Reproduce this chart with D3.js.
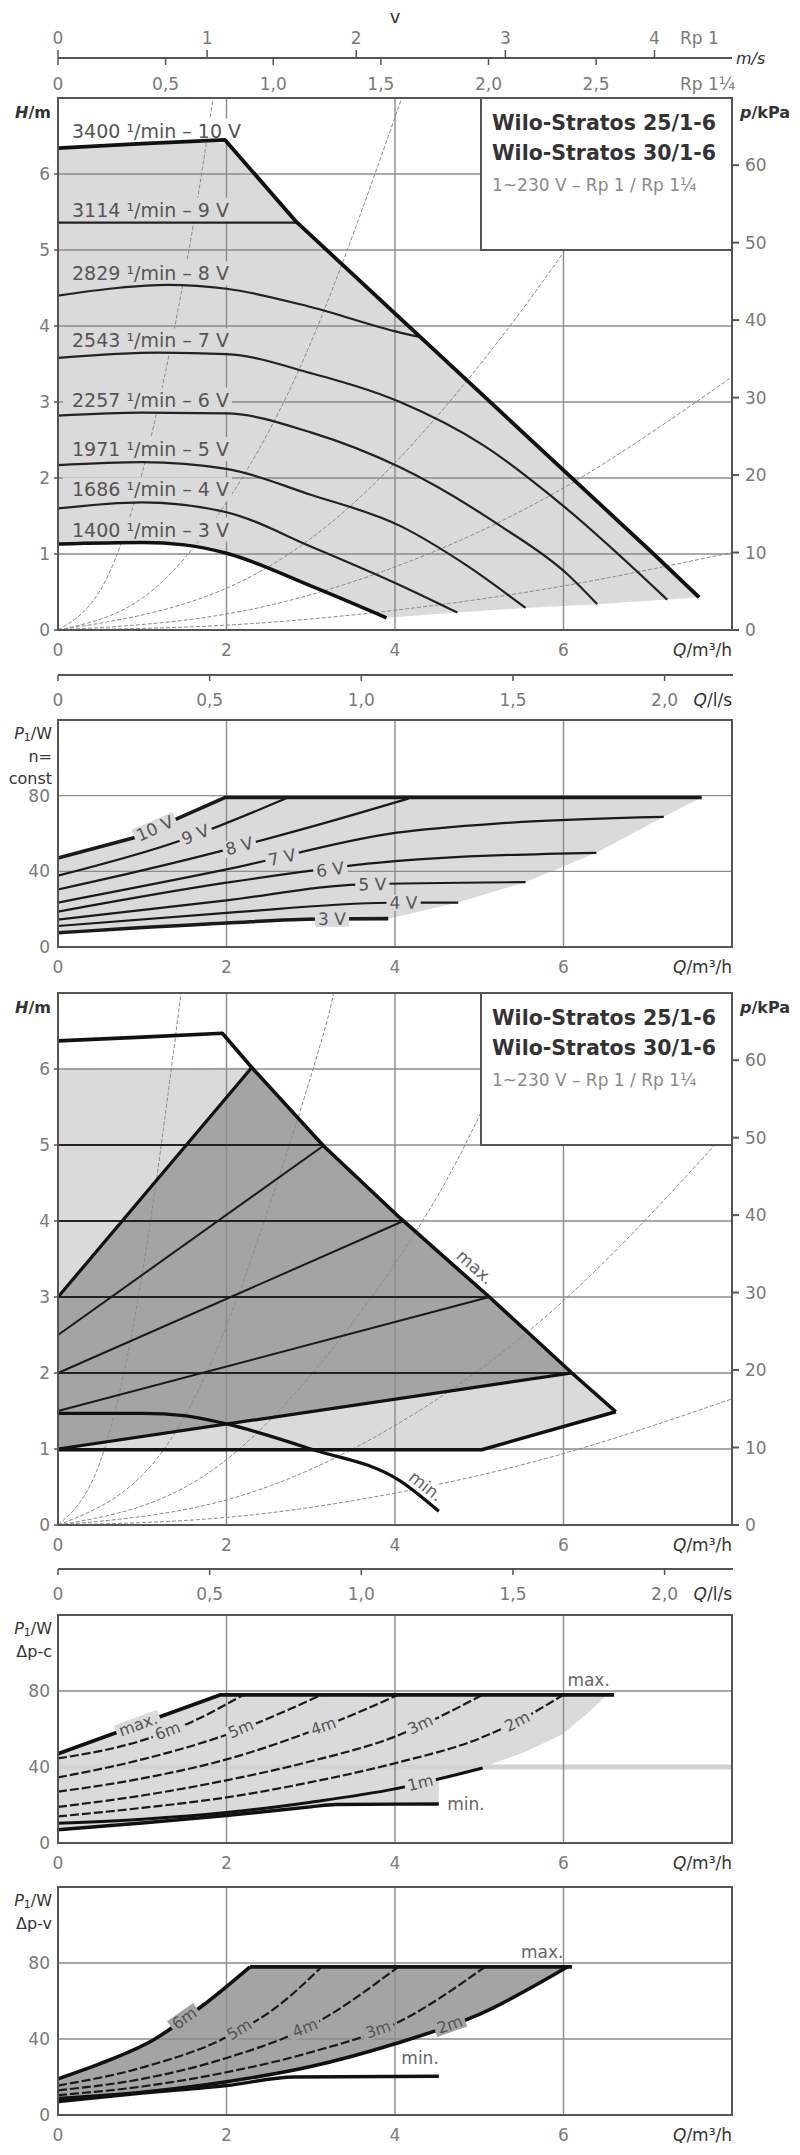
<!DOCTYPE html>
<html><head><meta charset="utf-8">
<script src="https://cdn.jsdelivr.net/npm/d3@7"></script>
<style>
html,body{margin:0;padding:0;background:#fff;}
svg{display:block;font-family:"DejaVu Sans",sans-serif;}
</style></head><body>
<svg id="c" width="800" height="2155"></svg>
<script>
// ================= DATA =================
const qTicks = [0, 2, 4, 6];
const lsTicks = [0, 0.5, 1.0, 1.5, 2.0];
const lsLabels = ["0", "0,5", "1,0", "1,5", "2,0"];
const vRp1Ticks = [0, 1, 2, 3, 4];
const vRp114Ticks = [0, 0.5, 1.0, 1.5, 2.0, 2.5];
const vRp114Labels = ["0", "0,5", "1,0", "1,5", "2,0", "2,5"];
const hTicks = [0, 1, 2, 3, 4, 5, 6];
const kpaTicks = [0, 10, 20, 30, 40, 50, 60];
const pwTicks = [0, 40, 80];
const legendLines = ["Wilo-Stratos 25/1-6", "Wilo-Stratos 30/1-6", "1~230 V – Rp 1 / Rp 1¼"];

// Panel 1 : H/m vs Q, n = const
const p1Labels = ["3400 ¹/min – 10 V", "3114 ¹/min – 9 V", "2829 ¹/min – 8 V", "2543 ¹/min – 7 V",
                  "2257 ¹/min – 6 V", "1971 ¹/min – 5 V", "1686 ¹/min – 4 V", "1400 ¹/min – 3 V"];
const p1_10V = [[0,6.34],[1,6.40],[1.98,6.45],[2.83,5.37],[7.07,1.0],[7.61,0.43]];
const p1_9V  = [[0,5.36],[2.83,5.36]];
const p1_8V  = [[0,4.40],[0.7,4.50],[1.3,4.54],[2,4.49],[3,4.25],[4.04,3.92],[4.28,3.86]];
const p1_7V  = [[0,3.58],[1.2,3.65],[2,3.63],[3,3.38],[4.06,3.0],[5.05,2.43],[6,1.63],[7.23,0.40]];
const p1_6V  = [[0,2.82],[1,2.86],[2,2.85],[3,2.6],[4.06,2.14],[5.25,1.37],[6.04,0.74],[6.4,0.34]];
const p1_5V  = [[0,2.17],[1,2.21],[2,2.12],[3,1.78],[4.06,1.37],[4.85,0.85],[5.55,0.29]];
const p1_4V  = [[0,1.60],[1,1.68],[2,1.55],[3,1.10],[4.06,0.59],[4.74,0.23]];
const p1_3V  = [[0,1.13],[1,1.15],[1.5,1.12],[2,1.01],[3,0.58],[3.9,0.16]];
const p1Sys = [
  [[0,0],[0.5,0.52],[1,2.07],[1.5,4.66],[1.84,7.0]],
  [[0,0],[1,0.42],[2,1.68],[3,3.78],[4.08,7.0]],
  [[0,0],[2,0.55],[4,2.2],[6,4.97],[7.12,7.0]],
  [[0,0],[2,0.21],[4,0.83],[6,1.87],[8,3.33]],
  [[0,0],[2,0.064],[4,0.26],[6,0.58],[8,1.02]]
];

// Panel 2 : P1/W, n = const
const p2Labels = ["10 V","9 V","8 V","7 V","6 V","5 V","4 V","3 V"];
const p2LabelQ = [1.15, 1.63, 2.15, 2.66, 3.23, 3.73, 4.1, 3.25];
const p2_10V = [[0,47],[0.89,57.6],[1.98,79],[7.64,79]];
const p2_9V  = [[0,37.7],[1.43,55.9],[2.73,79]];
const p2_8V  = [[0,30.4],[1,40.5],[2,51.5],[3,63.5],[4.16,78.5]];
const p2_7V  = [[0,23.5],[2,41],[4,60.3],[5.32,65.6],[7.19,68.8]];
const p2_6V  = [[0,18.7],[2,34],[4,45.4],[6.39,49.8]];
const p2_5V  = [[0,14.5],[2,24.6],[3.55,33],[5.55,34.3]];
const p2_4V  = [[0,11.1],[2,18],[3.92,23.4],[4.75,23.5]];
const p2_3V  = [[0,7.5],[2,12.7],[3.1,14.8],[3.92,15]];

// Panel 3 : H/m, Δp-c / Δp-v ranges
const p3Max = [[0,6.37],[1.0,6.42],[1.95,6.47],[2.3,6.02],[3.15,4.99],[4.06,4.04],[5.12,3.0],[6.1,2.0],[6.62,1.49]];
const p3Bottom = [[6.62,1.49],[5.03,0.99],[0,0.99]];
const p3Dpv6 = [[0,3.0],[2.3,6.02]];
const p3Dpv5 = [[0,2.5],[3.15,4.99]];
const p3Dpv4 = [[0,2.0],[4.1,4.0]];
const p3Dpv3 = [[0,1.5],[5.12,3.0]];
const p3Dpv2 = [[0,1.0],[6.1,2.0]];
const p3DpcLevels = [2, 3, 4, 5];
const p3Min = [[0,1.47],[1,1.47],[1.5,1.44],[2,1.33],[3,1.0],[4.06,0.58],[4.52,0.18]];
const p3Sys = [
  [[0,0],[0.5,0.83],[1,3.3],[1.46,7.0]],
  [[0,0],[1,0.655],[2,2.62],[3,5.9],[3.27,7.0]],
  [[0,0],[2,0.86],[4,3.44],[5,5.38],[5.7,7.0]],
  [[0,0],[2,0.33],[4,1.31],[6,2.95],[8,5.25]],
  [[0,0],[2,0.10],[4,0.42],[6,0.94],[8,1.66]]
];

// Panel 4 : P1/W, Δp-c
const p4Max = [[0,47],[1.93,78],[6.6,78]];
const p4_6m = [[0,44.5],[1,54],[1.6,64],[2.2,78]];
const p4_5m = [[0,34.5],[1,44],[2,57],[3.13,78]];
const p4_4m = [[0,27],[1,34],[2,44],[3.25,63],[4.04,78]];
const p4_3m = [[0,19],[1,25],[2,33],[3,43],[4,56],[5.04,78]];
const p4_2m = [[0,14],[1,18.5],[2,24],[3,32],[4,42],[5,55],[5.45,64],[6.0,78]];
const p4_1m = [[0,10.4],[1,12.5],[2,16],[3,21.5],[4,28.5],[5.04,39.5]];
const p4Min = [[0,7],[1,10.5],[2,14.5],[3,19],[3.3,20.3],[4.52,20.5]];
const p4Edge = [[6.52,78],[6.28,68],[5.98,57],[5.55,48],[5.05,40]];

// Panel 5 : P1/W, Δp-v
const p5_6m = [[0,19],[0.5,27],[1.13,39.5],[1.73,58],[2.28,78]];
const p5Top = [[2.28,78],[6.1,78]];
const p5_5m = [[0,15.5],[1,25],[2,41],[2.6,57],[3.13,78]];
const p5_4m = [[0,13],[1,19],[2,30],[3,47],[4.04,78]];
const p5_3m = [[0,10.5],[1,15],[2,22.5],[3,33],[4,48],[5.07,78]];
const p5_2m = [[0,8.7],[1,12],[2,17.5],[3,25.5],[4,37.5],[5,53],[6.05,78]];
const p5Min = [[0,7],[1,11.5],[2,15.5],[2.8,20],[4.52,20.4]];

// ================= DRAWING =================
const svg = d3.select("#c");
const LIGHT = "#dadada", DARK = "#a4a4a4", GRID = "#8c8c8c", FRAME = "#555", TICKTXT = "#7a7a7a", TITLE = "#333";
const DASH = "9,3";
const x = d3.scaleLinear().domain([0, 8]).range([58, 732]);
const X0 = x(0), X1 = x(8);

const yH1 = d3.scaleLinear().domain([0, 7]).range([630, 98]);
const yP2 = d3.scaleLinear().domain([0, 120]).range([947, 720]);
const yH3 = d3.scaleLinear().domain([0, 7]).range([1525, 993]);
const yP4 = d3.scaleLinear().domain([0, 120]).range([1843, 1615]);
const yP5 = d3.scaleLinear().domain([0, 120]).range([2115, 1887]);

const defs = svg.append("defs");
function clip(id, y) {
  defs.append("clipPath").attr("id", id).append("rect")
    .attr("x", X0).attr("y", y.range()[1]).attr("width", X1 - X0).attr("height", y.range()[0] - y.range()[1]);
  return "url(#" + id + ")";
}

function at(pts, q) {
  if (q <= pts[0][0]) return pts[0][1];
  for (let i = 1; i < pts.length; i++) {
    if (q <= pts[i][0]) {
      const [a, b] = pts[i - 1], [c, d] = pts[i];
      return b + (d - b) * (q - a) / (c - a);
    }
  }
  return pts[pts.length - 1][1];
}
function qAt(pts, h) {
  for (let i = 1; i < pts.length; i++) {
    const [a, b] = pts[i - 1], [c, d] = pts[i];
    if ((b - h) * (d - h) <= 0 && b !== d) return a + (c - a) * (h - b) / (d - b);
  }
  return pts[pts.length - 1][0];
}
function line(g, pts, y, stroke, w, curve, dash) {
  const gen = d3.line().x(d => x(d[0])).y(d => y(d[1])).curve(curve || d3.curveMonotoneX);
  const p = g.append("path").attr("d", gen(pts)).attr("fill", "none").attr("stroke", stroke)
    .attr("stroke-width", w).attr("stroke-linejoin", "round").attr("stroke-linecap", "butt");
  if (dash) p.attr("stroke-dasharray", dash);
  return p;
}
function poly(g, pts, y, fill) {
  g.append("path").attr("d", d3.line().x(d => x(d[0])).y(d => y(d[1]))(pts) + "Z").attr("fill", fill);
}
function onLine(g, pts, y, q, text, o) {
  o = o || {};
  const px = x(q), py = y(at(pts, q));
  const e = 0.08;
  const ang = Math.atan2(y(at(pts, q + e)) - y(at(pts, q - e)), x(q + e) - x(q - e)) * 180 / Math.PI;
  const t = g.append("g").attr("transform", `translate(${px},${py}) rotate(${ang})`);
  const tx = t.append("text").attr("x", o.dx || 0).attr("y", o.dy || 0)
    .attr("text-anchor", o.anchor || "middle").attr("dominant-baseline", "central")
    .attr("font-size", o.size || 17).attr("fill", o.color || "#555").text(text);
  if (o.bg) {
    const b = tx.node().getBBox();
    t.insert("rect", "text").attr("x", b.x - 3).attr("y", b.y + 2).attr("width", b.width + 6)
      .attr("height", b.height - 4).attr("fill", o.bg);
  }
}
function grid(g, y, hLevels) {
  hLevels.forEach(v => g.append("line").attr("x1", X0).attr("x2", X1).attr("y1", y(v)).attr("y2", y(v))
    .attr("stroke", GRID).attr("stroke-width", 1.4));
  qTicks.slice(1).forEach(q => g.append("line").attr("x1", x(q)).attr("x2", x(q))
    .attr("y1", y.range()[1]).attr("y2", y.range()[0]).attr("stroke", GRID).attr("stroke-width", 1.4));
}
function frame(g, y) {
  g.append("rect").attr("x", X0).attr("y", y.range()[1]).attr("width", X1 - X0)
    .attr("height", y.range()[0] - y.range()[1]).attr("fill", "none").attr("stroke", FRAME).attr("stroke-width", 2);
}
function txt(g, xx, yy, s, o) {
  o = o || {};
  return g.append("text").attr("x", xx).attr("y", yy).attr("text-anchor", o.anchor || "middle")
    .attr("dominant-baseline", "central").attr("font-size", o.size || 17)
    .attr("fill", o.color || TICKTXT).attr("font-weight", o.weight || "normal").text(s);
}
function qAxisLabels(g, y) {
  const yy = y.range()[0] + 20;
  qTicks.forEach(q => txt(g, x(q), yy, q));
  const t = txt(g, X1, yy, "", { anchor: "end", color: TITLE });
  t.append("tspan").attr("font-style", "italic").text("Q");
  t.append("tspan").text("/m³/h");
}
function lsAxis(g, yy) {
  g.append("line").attr("x1", X0).attr("x2", X1 + 1).attr("y1", yy).attr("y2", yy).attr("stroke", FRAME).attr("stroke-width", 2);
  lsTicks.forEach((v, i) => {
    g.append("line").attr("x1", x(v * 3.6)).attr("x2", x(v * 3.6)).attr("y1", yy).attr("y2", yy + 6).attr("stroke", FRAME).attr("stroke-width", 1.5);
    txt(g, x(v * 3.6), yy + 25, lsLabels[i]);
  });
  const t = txt(g, X1, yy + 25, "", { anchor: "end", color: TITLE });
  t.append("tspan").attr("font-style", "italic").text("Q");
  t.append("tspan").text("/l/s");
}
function hAxes(g, y) {
  const top = y.range()[1];
  hTicks.forEach(h => {
    txt(g, 50, y(h), h, { anchor: "end" });
    g.append("line").attr("x1", X0 - 4).attr("x2", X0).attr("y1", y(h)).attr("y2", y(h)).attr("stroke", FRAME).attr("stroke-width", 1.5);
  });
  const t = txt(g, 51, top + 14, "", { anchor: "end", color: TITLE, weight: "bold", size: 16 });
  t.append("tspan").attr("font-style", "italic").text("H");
  t.append("tspan").text("/m");
  kpaTicks.forEach(p => {
    const yy = y(p / 9.81);
    g.append("line").attr("x1", X1).attr("x2", X1 + 7).attr("y1", yy).attr("y2", yy).attr("stroke", FRAME).attr("stroke-width", 2);
    txt(g, X1 + 13, yy, p, { anchor: "start" });
  });
  const t2 = txt(g, X1 + 8, top + 14, "", { anchor: "start", color: TITLE, weight: "bold", size: 16 });
  t2.append("tspan").attr("font-style", "italic").text("p");
  t2.append("tspan").text("/kPa");
}
function pAxes(g, y, sub) {
  pwTicks.forEach(p => txt(g, 50, y(p), p, { anchor: "end" }));
  const top = y.range()[1];
  const t = txt(g, 52, top + 13, "", { anchor: "end", color: TITLE, size: 16 });
  t.append("tspan").attr("font-style", "italic").text("P");
  t.append("tspan").attr("font-size", 11).attr("dy", 4).text("1");
  t.append("tspan").attr("dy", -4).text("/W");
  sub.forEach((s, i) => txt(g, 52, top + 36 + i * 22, s, { anchor: "end", color: TITLE, size: 16 }));
}
function legend(g, y) {
  const top = y.range()[1];
  g.append("rect").attr("x", 481).attr("y", top).attr("width", X1 - 481).attr("height", 152)
    .attr("fill", "#fff").attr("stroke", FRAME).attr("stroke-width", 2);
  txt(g, 492, top + 25, legendLines[0], { anchor: "start", color: "#333", weight: "bold", size: 20.5 });
  txt(g, 492, top + 55, legendLines[1], { anchor: "start", color: "#333", weight: "bold", size: 20.5 });
  txt(g, 492, top + 87, legendLines[2], { anchor: "start", color: "#8a8a8a", size: 17 });
}

// ---------- Top velocity axis ----------
{
  const g = svg.append("g");
  const vRp1 = d3.scaleLinear().domain([0, 1]).range([x(0), x(1.77)]);
  const vRp114 = d3.scaleLinear().domain([0, 1]).range([x(0), x(2.555)]);
  const yy = 58;
  g.append("line").attr("x1", X0).attr("x2", X1).attr("y1", yy).attr("y2", yy).attr("stroke", FRAME).attr("stroke-width", 2);
  vRp1Ticks.forEach(v => {
    g.append("line").attr("x1", vRp1(v)).attr("x2", vRp1(v)).attr("y1", yy - 8).attr("y2", yy).attr("stroke", FRAME).attr("stroke-width", 1.5);
    txt(g, vRp1(v), 38, v);
  });
  vRp114Ticks.forEach((v, i) => {
    g.append("line").attr("x1", vRp114(v)).attr("x2", vRp114(v)).attr("y1", yy).attr("y2", yy + 7).attr("stroke", FRAME).attr("stroke-width", 1.5);
    txt(g, vRp114(v), 84, vRp114Labels[i]);
  });
  txt(g, 680, 38, "Rp 1", { anchor: "start" });
  txt(g, 680, 84, "Rp 1¼", { anchor: "start" });
  txt(g, 395, 16, "v", { color: TITLE, size: 18 });
  const t = txt(g, 736, yy, "m/s", { anchor: "start", color: TITLE, size: 16 });
  t.attr("font-style", "italic");
}

// ---------- Panel 1 ----------
{
  const g = svg.append("g");
  const y = yH1;
  const cp = clip("c1", y);
  const ends = [p1_7V, p1_6V, p1_5V, p1_4V].map(c => c[c.length - 1]);
  poly(g, p1_10V.concat(ends, p1_3V.slice().reverse()), y, LIGHT);
  grid(g, y, [1, 2, 3, 4, 5, 6]);
  const gs = g.append("g").attr("clip-path", cp);
  p1Sys.forEach(s => line(gs, s, y, "#8a8a8a", 1, d3.curveNatural, "4,2"));
  const curves = [p1_10V, p1_9V, p1_8V, p1_7V, p1_6V, p1_5V, p1_4V, p1_3V];
  curves.forEach((c, i) => {
    const ly = y(at(c, 1)) - 13;
    const t = txt(g, 72, ly, p1Labels[i], { anchor: "start", color: "#555", size: 19 });
    const b = t.node().getBBox();
    g.insert("rect", "text:last-of-type").attr("x", 63).attr("y", ly - 12).attr("width", b.x + b.width - 63 + 3)
      .attr("height", 24).attr("fill", i === 0 ? "#fff" : LIGHT);
    t.raise();
  });
  line(g, p1_9V, y, "#222", 2.2, d3.curveLinear);
  [p1_8V, p1_7V, p1_6V, p1_5V, p1_4V].forEach(c => line(g, c, y, "#222", 2.2));
  line(g, p1_3V, y, "#111", 3.5);
  line(g, p1_10V, y, "#111", 3.8, d3.curveLinear);
  legend(g, y);
  frame(g, y);
  hAxes(g, y);
  qAxisLabels(g, y);
  lsAxis(g, 675);
}

// ---------- Panel 2 ----------
{
  const g = svg.append("g");
  const y = yP2;
  const ends = [p2_7V, p2_6V, p2_5V, p2_4V].map(c => c[c.length - 1]);
  poly(g, p2_10V.concat(ends, p2_3V.slice().reverse()), y, LIGHT);
  grid(g, y, [40, 80]);
  const curves = [p2_10V, p2_9V, p2_8V, p2_7V, p2_6V, p2_5V, p2_4V, p2_3V];
  curves.forEach((c, i) => {
    const w = (i === 0 || i === 7) ? 3.6 : 2.2;
    line(g, c, y, "#1a1a1a", w, i === 0 ? d3.curveLinear : d3.curveMonotoneX);
  });
  curves.forEach((c, i) => onLine(g, c, y, p2LabelQ[i], p2Labels[i], { bg: LIGHT, size: 17, color: "#555" }));
  frame(g, y);
  pAxes(g, y, ["n=", "const"]);
  qAxisLabels(g, y);
}

// ---------- Panel 3 ----------
{
  const g = svg.append("g");
  const y = yH3;
  const cp = clip("c3", y);
  const apexIdx = 3;
  const lightPoly = [[0, 0.99], [0, 6.0]].concat(p3Max.slice(apexIdx), [[5.03, 0.99]]);
  poly(g, lightPoly, y, LIGHT);
  const i2 = p3Max.findIndex(d => d[0] >= 6.1);
  const darkPoly = [[0, 3.0]].concat(p3Max.slice(apexIdx, i2 + 1), [[0, 1.0]]);
  poly(g, darkPoly, y, DARK);
  grid(g, y, [1, 2, 3, 4, 5, 6]);
  const gs = g.append("g").attr("clip-path", cp);
  p3Sys.forEach(s => line(gs, s, y, "#8a8a8a", 1, d3.curveNatural, "4,2"));
  p3DpcLevels.forEach(h => line(g, [[0, h], [qAt(p3Max, h), h]], y, "#222", 1.8, d3.curveLinear));
  [p3Dpv5, p3Dpv4, p3Dpv3].forEach(c => line(g, c, y, "#1a1a1a", 2, d3.curveLinear));
  [p3Dpv6, p3Dpv2].forEach(c => line(g, c, y, "#111", 3.2, d3.curveLinear));
  line(g, p3Bottom, y, "#111", 3.4, d3.curveLinear);
  line(g, p3Min, y, "#111", 3.2);
  line(g, p3Max, y, "#111", 3.6, d3.curveLinear);
  onLine(g, p3Max, y, 4.85, "max.", { dy: -13, size: 17, color: "#666" });
  onLine(g, p3Min, y, 4.28, "min.", { dy: -12, size: 17, color: "#666", bg: "#fff" });
  legend(g, y);
  frame(g, y);
  hAxes(g, y);
  qAxisLabels(g, y);
  lsAxis(g, 1569);
}

// ---------- Panel 4 ----------
{
  const g = svg.append("g");
  const y = yP4;
  const i1 = p4_1m.findIndex(d => d[0] >= 4.52);
  const fillPts = p4Max.slice(0, 2).concat(p4Edge, p4_1m.slice(i1).reverse(), [[4.52, at(p4_1m, 4.52)]],
    p4Min.slice().reverse());
  poly(g, fillPts, y, LIGHT);
  grid(g, y, [80]);
  g.append("line").attr("x1", X0).attr("x2", X1).attr("y1", y(40)).attr("y2", y(40)).attr("stroke", "#d2d2d2").attr("stroke-width", 5);
  qTicks.slice(1).forEach(q => g.append("line").attr("x1", x(q)).attr("x2", x(q)).attr("y1", y(42)).attr("y2", y(38)).attr("stroke", GRID).attr("stroke-width", 1.4));
  [p4_6m, p4_5m, p4_4m, p4_3m, p4_2m].forEach(c => line(g, c, y, "#1a1a1a", 2.2, d3.curveMonotoneX, DASH));
  line(g, p4_1m, y, "#111", 3);
  line(g, p4Min, y, "#111", 3.4);
  line(g, p4Max, y, "#111", 3.8, d3.curveLinear);
  onLine(g, p4Max, y, 0.95, "max.", { bg: LIGHT, size: 16, color: "#555" });
  onLine(g, p4_6m, y, 1.3, "6m", { bg: LIGHT, size: 16, color: "#555" });
  onLine(g, p4_5m, y, 2.17, "5m", { bg: LIGHT, size: 16, color: "#555" });
  onLine(g, p4_4m, y, 3.15, "4m", { bg: LIGHT, size: 16, color: "#555" });
  onLine(g, p4_3m, y, 4.3, "3m", { bg: LIGHT, size: 16, color: "#555" });
  onLine(g, p4_2m, y, 5.45, "2m", { bg: LIGHT, size: 16, color: "#555" });
  onLine(g, p4_1m, y, 4.3, "1m", { bg: LIGHT, size: 16, color: "#555" });
  txt(g, x(4.62), y(at(p4Min, 4.52)), "min.", { anchor: "start", color: "#666", size: 17 });
  txt(g, x(6.55), y(86), "max.", { anchor: "end", color: "#666", size: 17 });
  frame(g, y);
  pAxes(g, y, ["Δp-c"]);
  qAxisLabels(g, y);
}

// ---------- Panel 5 ----------
{
  const g = svg.append("g");
  const y = yP5;
  poly(g, p5_6m.concat(p5Top, p5_2m.slice().reverse()), y, DARK);
  grid(g, y, [40, 80]);
  [p5_5m, p5_4m, p5_3m].forEach(c => line(g, c, y, "#1a1a1a", 2.2, d3.curveMonotoneX, DASH));
  line(g, p5Min, y, "#111", 3.4);
  line(g, p5_2m, y, "#111", 3.6);
  line(g, p5_6m, y, "#111", 3.6);
  line(g, p5Top, y, "#111", 3.8, d3.curveLinear);
  onLine(g, p5_6m, y, 1.5, "6m", { bg: DARK, size: 16, color: "#555" });
  onLine(g, p5_5m, y, 2.15, "5m", { bg: DARK, size: 16, color: "#555" });
  onLine(g, p5_4m, y, 2.93, "4m", { bg: DARK, size: 16, color: "#555" });
  onLine(g, p5_3m, y, 3.8, "3m", { bg: DARK, size: 16, color: "#555" });
  onLine(g, p5_2m, y, 4.65, "2m", { bg: DARK, size: 16, color: "#555" });
  txt(g, x(4.52), y(at(p5Min, 4.52)) - 18, "min.", { anchor: "end", color: "#666", size: 17 });
  txt(g, x(6.0), y(86), "max.", { anchor: "end", color: "#666", size: 17 });
  frame(g, y);
  pAxes(g, y, ["Δp-v"]);
  qAxisLabels(g, y);
}
</script>
</body></html>
